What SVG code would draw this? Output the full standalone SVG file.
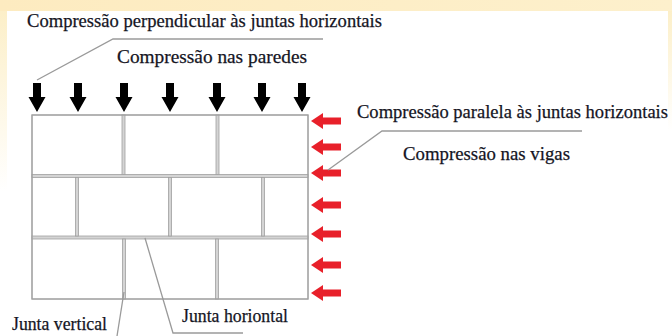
<svg xmlns="http://www.w3.org/2000/svg" width="672" height="336" viewBox="0 0 672 336">
<defs>
<linearGradient id="lg" x1="0" y1="0" x2="0" y2="1">
<stop offset="0" stop-color="#fcefc8"/>
<stop offset="1" stop-color="#ffffff"/>
</linearGradient>
<linearGradient id="tg" x1="0" y1="0" x2="1" y2="0">
<stop offset="0" stop-color="#fdebc0"/>
<stop offset="1" stop-color="#fdf0cc"/>
</linearGradient>
<path id="down" d="M-4,0 H4 V14 H8.5 L0,29 L-8.5,14 H-4 Z"/>
<path id="left" d="M0,0 L12,-8 V-3.5 H30 V3.5 H12 V8 Z"/>
<style>
text{font-family:"Liberation Serif","Times New Roman",serif;fill:#15151f;stroke:#15151f;stroke-width:0.25;}
.t{font-size:18.8px;}
.brick{fill:#ffffff;stroke:#a8a8a8;stroke-width:1;}
.joint{fill:#d4d4d4;stroke:#a0a0a0;stroke-width:0.8;}
.lead{fill:none;stroke:#9a9a9a;stroke-width:1.3;}
.ba{fill:#000;}
.ra{fill:#e8202a;}
</style>
</defs>
<rect width="672" height="336" fill="#ffffff"/>
<rect x="0" y="0" width="672" height="11" fill="url(#tg)"/>
<rect x="0" y="11" width="7" height="180" fill="url(#lg)"/>
<rect x="668" y="11" width="4" height="120" fill="url(#lg)"/>

<g id="wall">
<rect class="brick" x="32" y="115" width="276" height="184"/>
<rect class="joint" x="32" y="174.5" width="276" height="3"/>
<rect class="joint" x="32" y="236" width="276" height="3"/>
<rect class="joint" x="122" y="115" width="3" height="59.5"/>
<rect class="joint" x="216" y="115" width="3" height="59.5"/>
<rect class="joint" x="75.5" y="177.5" width="3" height="58.5"/>
<rect class="joint" x="168.5" y="177.5" width="3" height="58.5"/>
<rect class="joint" x="261.5" y="177.5" width="3" height="58.5"/>
<rect class="joint" x="122.5" y="239" width="3" height="60"/>
<rect class="joint" x="215.5" y="239" width="3" height="60"/>
<rect x="32" y="115" width="276" height="184" fill="none" stroke="#a0a0a0" stroke-width="1.2"/>
</g>

<g id="loads-vertical">
<use href="#down" class="ba" x="37" y="83"/>
<use href="#down" class="ba" x="78" y="83"/>
<use href="#down" class="ba" x="124" y="83"/>
<use href="#down" class="ba" x="170" y="83"/>
<use href="#down" class="ba" x="217" y="83"/>
<use href="#down" class="ba" x="262" y="83"/>
<use href="#down" class="ba" x="302" y="83"/>
</g>

<g id="loads-horizontal">
<use href="#left" class="ra" x="311" y="121"/>
<use href="#left" class="ra" x="311" y="147"/>
<use href="#left" class="ra" x="311" y="173"/>
<use href="#left" class="ra" x="311" y="205"/>
<use href="#left" class="ra" x="311" y="234"/>
<use href="#left" class="ra" x="311" y="265"/>
<use href="#left" class="ra" x="311" y="293"/>
</g>

<g id="connectors">
<polyline class="lead" points="37,80 113,39 323,39"/>
<polyline class="lead" points="328,170 382,131 582,131"/>
<line class="lead" x1="124" y1="292" x2="117" y2="336"/>
<polyline class="lead" points="145,238 173,333 243,333"/>
</g>

<g id="label-perpendicular"><text class="t" x="27" y="27" textLength="355" lengthAdjust="spacingAndGlyphs">Compressão perpendicular às juntas horizontais</text></g>
<g id="label-paredes"><text class="t" x="117" y="63" textLength="190" lengthAdjust="spacingAndGlyphs">Compressão nas paredes</text></g>
<g id="label-paralela"><text class="t" x="357" y="118" textLength="311" lengthAdjust="spacingAndGlyphs">Compressão paralela às juntas horizontais</text></g>
<g id="label-vigas"><text class="t" x="403" y="160" textLength="167" lengthAdjust="spacingAndGlyphs">Compressão nas vigas</text></g>
<g id="label-vertical"><text class="t" x="12" y="330" textLength="95" lengthAdjust="spacingAndGlyphs">Junta vertical</text></g>
<g id="label-horizontal"><text class="t" x="182" y="322" textLength="106" lengthAdjust="spacingAndGlyphs">Junta horiontal</text></g>
</svg>
